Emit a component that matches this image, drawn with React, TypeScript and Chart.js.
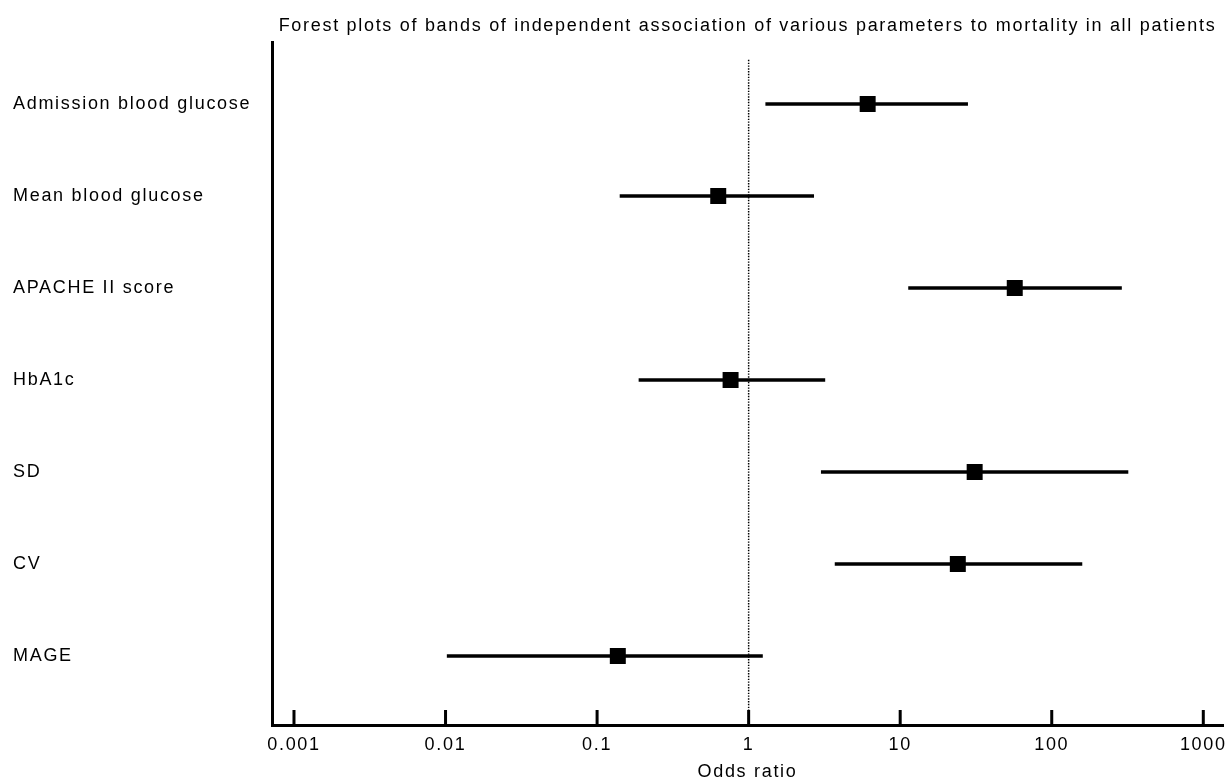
import { useEffect, useRef } from 'react';
import { Chart, registerables } from 'chart.js';

Chart.register(...registerables);

const CATEGORIES = [
  'Admission blood glucose',
  'Mean blood glucose',
  'APACHE II score',
  'HbA1c',
  'SD',
  'CV',
  'MAGE',
];
const ODDS_RATIO = [6.1, 0.63, 57, 0.76, 31, 24, 0.137];
const CI_LOWER = [1.29, 0.141, 11.3, 0.188, 3.0, 3.7, 0.0102];
const CI_UPPER = [28, 2.7, 290, 3.2, 320, 159, 1.24];

const X_TICKS = [0.001, 0.01, 0.1, 1, 10, 100, 1000];
const X_TICK_LABELS = ['0.001', '0.01', '0.1', '1', '10', '100', '1000'];
const X_MIN = 0.000716;
const X_MAX = 1349;
const Y_MIN = -0.674;
const Y_MAX = 6.75;
const REFERENCE_OR = 1;
const REFERENCE_Y = [-0.48, 6.75];

const TITLE = 'Forest plots of bands of independent association of various parameters to mortality in all patients';
const X_TITLE = 'Odds ratio';

const FONT_FAMILY = '"Liberation Sans", Arial, Helvetica, sans-serif';
const FONT_SIZE = 18;
const LETTER_SPACING = '1.7px';

const letterSpacingPlugin = {
  id: 'letterSpacing',
  beforeDraw(chart: any) {
    chart.ctx.letterSpacing = LETTER_SPACING;
  },
  afterDraw(chart: any) {
    chart.ctx.letterSpacing = '0px';
  },
};

const tickMarksPlugin = {
  id: 'tickMarks',
  afterDraw(chart: any) {
    const xs = chart.scales.x;
    const ctx = chart.ctx;
    const y0 = chart.chartArea.bottom;
    ctx.save();
    ctx.strokeStyle = '#000';
    ctx.lineWidth = 3;
    ctx.beginPath();
    for (const t of X_TICKS) {
      const px = xs.getPixelForValue(t);
      ctx.moveTo(px, y0);
      ctx.lineTo(px, y0 - 15);
    }
    ctx.stroke();
    ctx.restore();
  },
};

export default function App() {
  const ref = useRef<HTMLCanvasElement>(null);

  useEffect(() => {
    document.body.style.margin = '0';
    const canvas = ref.current;
    if (!canvas) return;

    const ciDatasets = CATEGORIES.map((_, i) => ({
      label: CATEGORIES[i],
      data: [
        { x: CI_LOWER[i], y: i },
        { x: CI_UPPER[i], y: i },
      ],
      showLine: true,
      borderColor: '#000',
      borderWidth: 3.5,
      pointRadius: 0,
      pointHoverRadius: 0,
    }));

    const chart = new Chart(canvas, {
      type: 'scatter',
      data: {
        datasets: [
          {
            label: 'Odds ratio',
            data: ODDS_RATIO.map((v, i) => ({ x: v, y: i })),
            pointStyle: 'rect',
            pointRadius: 11.3,
            pointBorderWidth: 0,
            backgroundColor: '#000',
            borderColor: '#000',
            showLine: false,
          } as any,
          ...ciDatasets,
          {
            label: 'Reference',
            data: REFERENCE_Y.map((y) => ({ x: REFERENCE_OR, y })),
            showLine: true,
            borderColor: '#000',
            borderWidth: 1.5,
            borderDash: [1.4, 1.4],
            pointRadius: 0,
          } as any,
        ],
      },
      options: {
        responsive: false,
        animation: false,
        devicePixelRatio: 1,
        layout: { autoPadding: false, padding: { left: 13, right: 3, top: 0, bottom: 0 } },
        plugins: {
          legend: { display: false },
          tooltip: { enabled: false },
          title: {
            display: true,
            text: TITLE,
            fullSize: false,
            color: '#000',
            font: { family: FONT_FAMILY, size: FONT_SIZE, weight: 'normal', lineHeight: 1.2 },
            padding: { top: 15.5, bottom: 4.9 },
          },
        },
        scales: {
          x: {
            type: 'logarithmic',
            min: X_MIN,
            max: X_MAX,
            grid: { display: false, drawTicks: true, tickLength: 9 },
            border: { display: true, width: 3, color: '#000' },
            afterBuildTicks: (scale: any) => {
              scale.ticks = X_TICKS.map((v) => ({ value: v }));
            },
            afterFit: (scale: any) => {
              scale.height = 55;
              scale.paddingLeft = 0;
              scale.paddingRight = 0;
            },
            ticks: {
              autoSkip: false,
              maxRotation: 0,
              padding: 0,
              color: '#000',
              font: { family: FONT_FAMILY, size: FONT_SIZE },
              callback: (value: any) => {
                const idx = X_TICKS.findIndex((t) => Math.abs(t - Number(value)) / t < 1e-6);
                return idx >= 0 ? X_TICK_LABELS[idx] : '';
              },
            },
            title: {
              display: true,
              text: X_TITLE,
              color: '#000',
              font: { family: FONT_FAMILY, size: FONT_SIZE, lineHeight: 1.2 },
              padding: { top: 0, bottom: -2.5 },
            },
          },
          y: {
            type: 'linear',
            reverse: true,
            min: Y_MIN,
            max: Y_MAX,
            grid: { display: false, drawTicks: false },
            border: { display: true, width: 3, color: '#000' },
            afterBuildTicks: (scale: any) => {
              scale.ticks = CATEGORIES.map((_, i) => ({ value: i }));
            },
            afterFit: (scale: any) => {
              scale.width = 259;
              scale.paddingTop = 0;
              scale.paddingBottom = 0;
            },
            ticks: {
              autoSkip: false,
              crossAlign: 'far',
              padding: 0,
              color: '#000',
              font: { family: FONT_FAMILY, size: FONT_SIZE },
              callback: (value: any) => CATEGORIES[Math.round(Number(value))] ?? '',
            },
          },
        },
      } as any,
      plugins: [letterSpacingPlugin, tickMarksPlugin],
    });

    return () => chart.destroy();
  }, []);

  return (
    <div style={{ width: 1226, height: 780 }}>
      <canvas ref={ref} width={1226} height={780} style={{ display: 'block' }} />
    </div>
  );
}
